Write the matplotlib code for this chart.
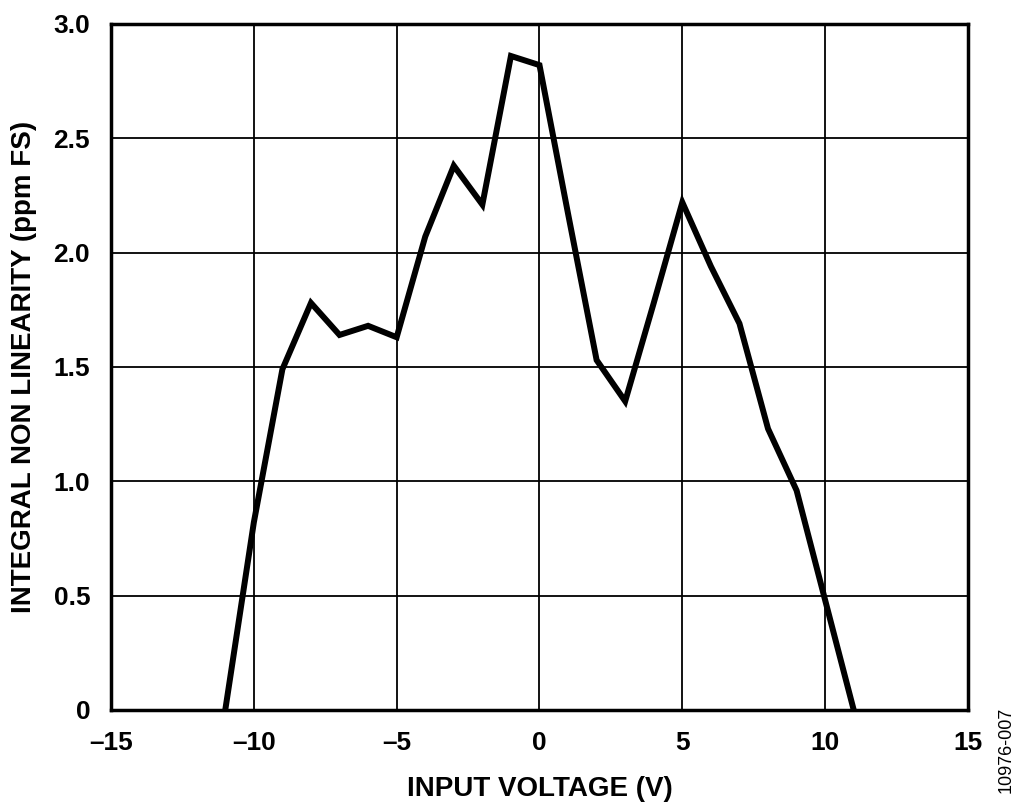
import matplotlib
matplotlib.use('Agg')
import matplotlib.pyplot as plt

# INL vs input voltage
voltage = [-11, -10, -9, -8, -7, -6, -5, -4, -3, -2, -1, 0,
           1, 2, 3, 4, 5, 6, 7, 8, 9, 10, 11]
inl = [0.0, 0.82, 1.49, 1.78, 1.64, 1.68, 1.63, 2.07, 2.38, 2.21, 2.86, 2.82,
       2.17, 1.53, 1.35, 1.78, 2.22, 1.94, 1.69, 1.23, 0.96, 0.48, 0.0]

x_ticks = [-15, -10, -5, 0, 5, 10, 15]
x_tick_labels = ['–15', '–10', '–5', '0', '5', '10', '15']
y_ticks = [0, 0.5, 1.0, 1.5, 2.0, 2.5, 3.0]
y_tick_labels = ['0', '0.5', '1.0', '1.5', '2.0', '2.5', '3.0']

plt.rcParams['font.family'] = ['Liberation Sans', 'DejaVu Sans']

fig = plt.figure(figsize=(10.24, 8.10), dpi=100)
ax = fig.add_axes([0.1084, 0.1235, 0.8369, 0.8469])

ax.plot(voltage, inl, color='k', linewidth=4.3, solid_joinstyle='miter', zorder=3)

ax.set_xlim(-15, 15)
ax.set_ylim(0, 3.0)
ax.set_xticks(x_ticks)
ax.set_xticklabels(x_tick_labels, fontsize=19, fontweight='bold')
ax.set_yticks(y_ticks)
ax.set_yticklabels(y_tick_labels, fontsize=19, fontweight='bold')
ax.tick_params(axis='x', length=0, pad=15)
ax.tick_params(axis='y', length=0, pad=15)

ax.grid(True, color='k', linewidth=1.3)
for s in ax.spines.values():
    s.set_linewidth(2.5)

ax.set_xlabel('INPUT VOLTAGE (V)', fontsize=20, fontweight='bold', labelpad=15)
ax.set_ylabel('INTEGRAL NON LINEARITY (ppm FS)', fontsize=20, fontweight='bold', labelpad=12)

fig.text(0.983, 0.074, '10976-007', rotation=90, fontsize=13, ha='center', va='center')

fig.savefig('out.png', dpi=100)
